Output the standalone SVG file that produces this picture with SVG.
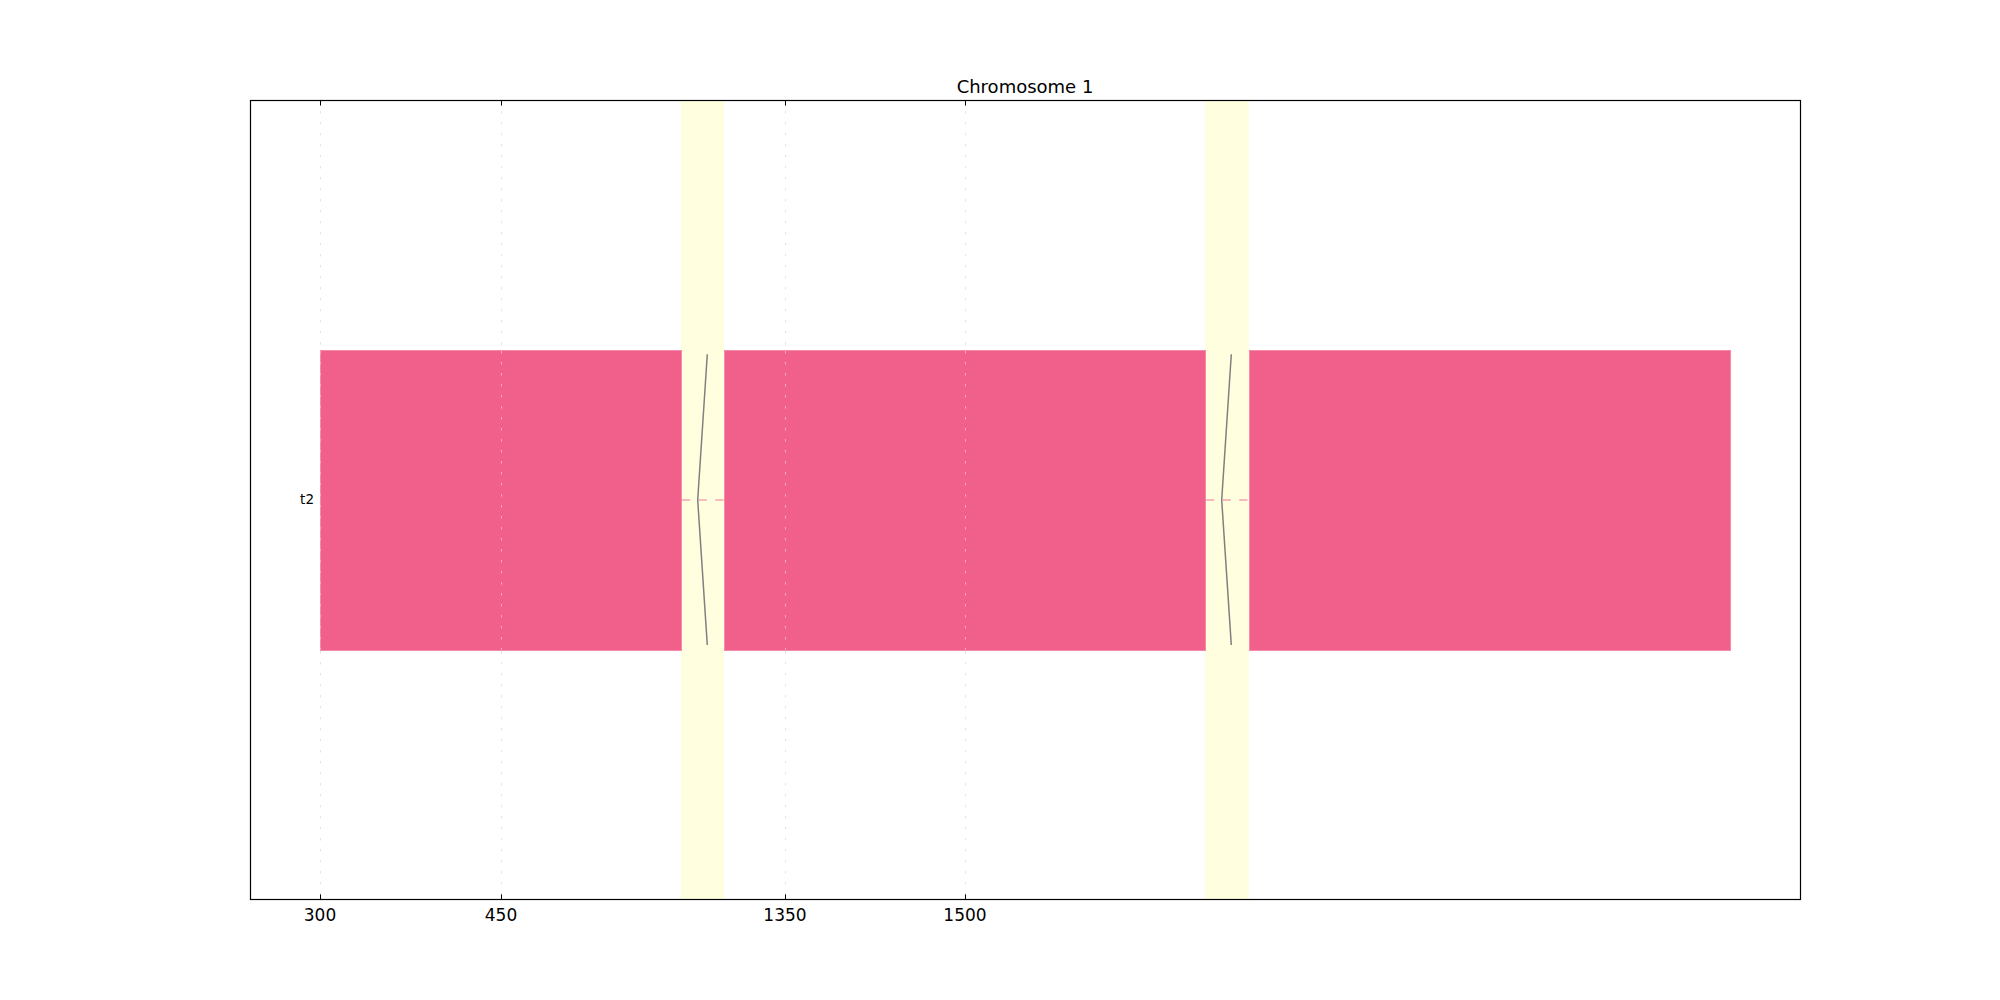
<svg xmlns="http://www.w3.org/2000/svg" width="2000" height="1000" viewBox="0 0 2000 1000">
<style>
.lbl{font-family:"DejaVu Sans","Liberation Sans",sans-serif;fill:#000}
.bar{fill:#f0608a;stroke:#f48aa8;stroke-width:1}
.hl{fill:#ffffe0}
.grid{stroke:#e4e4e4;stroke-width:1;stroke-dasharray:2.5 8.5}
.gridp{stroke:#f7a8be;stroke-width:1;stroke-dasharray:2.5 8.5}
.zig{fill:none;stroke:#808080;stroke-width:1.5}
.dash{stroke:#f07898;stroke-width:1;stroke-dasharray:8.3 8.3}
.tick{stroke:#000;stroke-width:1}
</style>
<rect x="0" y="0" width="2000" height="1000" fill="#fff"/>
<g id="highlights">
<rect class="hl" x="681" y="100" width="43" height="800"/>
<rect class="hl" x="1205" y="100" width="44" height="800"/>
</g>
<g id="bars">
<rect id="bar1" class="bar" x="320.5" y="350.5" width="361" height="300"/>
<rect id="bar2" class="bar" x="724.5" y="350.5" width="481" height="300"/>
<rect id="bar3" class="bar" x="1249.5" y="350.5" width="481" height="300"/>
</g>
<g id="connectors">
<line class="dash" x1="682" y1="500" x2="724" y2="500"/>
<line class="dash" x1="1206" y1="500" x2="1249" y2="500"/>
<polyline class="zig" points="707.3,354.3 697.7,500 707.3,645"/>
<polyline class="zig" points="1231.3,354.3 1221.7,500 1231.3,645"/>
</g>
<g id="grid">
<line class="grid" x1="320.5" y1="100" x2="320.5" y2="350"/>
<line class="grid" x1="501.5" y1="100" x2="501.5" y2="350"/>
<line class="grid" x1="785.5" y1="100" x2="785.5" y2="350"/>
<line class="grid" x1="965.5" y1="100" x2="965.5" y2="350"/>
<line class="gridp" x1="320.5" y1="351" x2="320.5" y2="650"/>
<line class="gridp" x1="501.5" y1="351" x2="501.5" y2="650"/>
<line class="gridp" x1="785.5" y1="351" x2="785.5" y2="650"/>
<line class="gridp" x1="965.5" y1="351" x2="965.5" y2="650"/>
<line class="grid" x1="320.5" y1="651" x2="320.5" y2="900"/>
<line class="grid" x1="501.5" y1="651" x2="501.5" y2="900"/>
<line class="grid" x1="785.5" y1="651" x2="785.5" y2="900"/>
<line class="grid" x1="965.5" y1="651" x2="965.5" y2="900"/>
</g>
<g id="axes">
<rect x="250.5" y="100.5" width="1550" height="799" fill="none" stroke="#000" stroke-width="1.2"/>
<line class="tick" x1="320.5" y1="100" x2="320.5" y2="105.6"/>
<line class="tick" x1="501.5" y1="100" x2="501.5" y2="105.6"/>
<line class="tick" x1="785.5" y1="100" x2="785.5" y2="105.6"/>
<line class="tick" x1="965.5" y1="100" x2="965.5" y2="105.6"/>
<line class="tick" x1="320.5" y1="900" x2="320.5" y2="894.4"/>
<line class="tick" x1="501.5" y1="900" x2="501.5" y2="894.4"/>
<line class="tick" x1="785.5" y1="900" x2="785.5" y2="894.4"/>
<line class="tick" x1="965.5" y1="900" x2="965.5" y2="894.4"/>
</g>
<g id="labels">
<text class="lbl" x="1025" y="93" font-size="18" text-anchor="middle">Chromosome 1</text>
<text class="lbl" x="320" y="921" font-size="17" text-anchor="middle">300</text>
<text class="lbl" x="501" y="921" font-size="17" text-anchor="middle">450</text>
<text class="lbl" x="785" y="921" font-size="17" text-anchor="middle">1350</text>
<text class="lbl" x="965" y="921" font-size="17" text-anchor="middle">1500</text>
<text class="lbl" x="314" y="504" font-size="13.5" text-anchor="end">t2</text>
</g>
</svg>
